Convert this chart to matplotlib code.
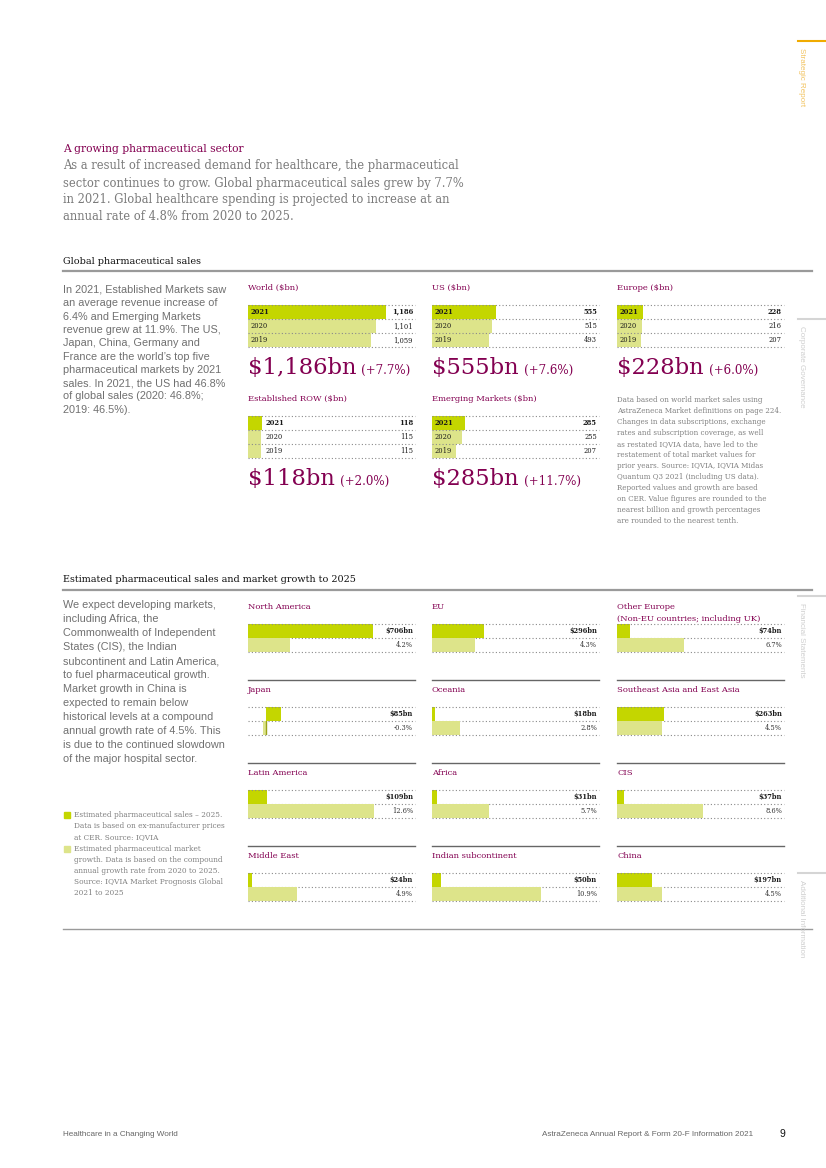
import matplotlib.pyplot as plt
from matplotlib.lines import Line2D
from matplotlib.patches import Rectangle

W, H = 826, 1168
PURPLE = '#830051'
LIME = '#C4D600'
LIME_LIGHT = '#DDE48A'
GREY = '#707070'
DOTS = '#8a8a8a'
SERIF = 'DejaVu Serif'
SANS = 'Liberation Sans'

# --- data -------------------------------------------------------------
years = ['2021', '2020', '2019']
market_titles = ['World ($bn)', 'US ($bn)', 'Europe ($bn)',
                 'Established ROW ($bn)', 'Emerging Markets ($bn)']
world_sales = [1186, 1101, 1059]
us_sales = [555, 515, 493]
europe_sales = [228, 216, 207]
est_row_sales = [118, 115, 115]
emerging_sales = [285, 255, 207]
market_growth = ['+7.7%', '+7.6%', '+6.0%', '+2.0%', '+11.7%']

regions = ['North America', 'EU', 'Other Europe\n(Non-EU countries; including UK)',
           'Japan', 'Oceania', 'Southeast Asia and East Asia',
           'Latin America', 'Africa', 'CIS',
           'Middle East', 'Indian subcontinent', 'China']
sales_2025 = [706, 296, 74, 85, 18, 263, 109, 31, 37, 24, 50, 197]
cagr_2020_2025 = [4.2, 4.3, 6.7, -0.3, 2.8, 4.5, 12.6, 5.7, 8.6, 4.9, 10.9, 4.5]

lead = ['As a result of increased demand for healthcare, the pharmaceutical',
        'sector continues to grow. Global pharmaceutical sales grew by 7.7%',
        'in 2021. Global healthcare spending is projected to increase at an',
        'annual rate of 4.8% from 2020 to 2025.']
para_sales = ['In 2021, Established Markets saw', 'an average revenue increase of',
              '6.4% and Emerging Markets', 'revenue grew at 11.9%. The US,',
              'Japan, China, Germany and', 'France are the world\u2019s top five',
              'pharmaceutical markets by 2021', 'sales. In 2021, the US had 46.8%',
              'of global sales (2020: 46.8%;', '2019: 46.5%).']
para_growth = ['We expect developing markets,', 'including Africa, the',
               'Commonwealth of Independent', 'States (CIS), the Indian',
               'subcontinent and Latin America,', 'to fuel pharmaceutical growth.',
               'Market growth in China is', 'expected to remain below',
               'historical levels at a compound', 'annual growth rate of 4.5%. This',
               'is due to the continued slowdown', 'of the major hospital sector.']
notes = ['Data based on world market sales using',
         'AstraZeneca Market definitions on page 224.',
         'Changes in data subscriptions, exchange',
         'rates and subscription coverage, as well',
         'as restated IQVIA data, have led to the',
         'restatement of total market values for',
         'prior years. Source: IQVIA, IQVIA Midas',
         'Quantum Q3 2021 (including US data).',
         'Reported values and growth are based',
         'on CER. Value figures are rounded to the',
         'nearest billion and growth percentages',
         'are rounded to the nearest tenth.']
legend_sales = ['Estimated pharmaceutical sales \u2013 2025.',
                'Data is based on ex-manufacturer prices',
                'at CER. Source: IQVIA']
legend_growth = ['Estimated pharmaceutical market',
                 'growth. Data is based on the compound',
                 'annual growth rate from 2020 to 2025.',
                 'Source: IQVIA Market Prognosis Global',
                 '2021 to 2025']
tabs = ['Strategic Report', 'Corporate Governance',
        'Financial Statements', 'Additional Information']

fig = plt.figure(figsize=(W / 100, H / 100), dpi=100)
renderer = fig.canvas.get_renderer()

COLS = [248, 432, 617]
PW = 167
SALES_MAX = 1440   # $bn across a panel width
S25_MAX = 944
CAGR_MAX = 16.7


def fx(x):
    return x / W


def fy(y):
    return 1 - y / H


def hline(x0, x1, y, color, lw):
    fig.add_artist(Line2D([fx(x0), fx(x1)], [fy(y), fy(y)], color=color, lw=lw))


def text_lines(x, y0, step, lines, **kw):
    for i, s in enumerate(lines):
        fig.text(fx(x), fy(y0 + i * step), s, va='center', **kw)


def panel_ax(x, y_top, h):
    ax = fig.add_axes([fx(x), fy(y_top + h), PW / W, h / H])
    ax.axis('off')
    return ax


def dotted(ax, y):
    ax.axhline(y, color=DOTS, lw=0.8, ls=(0, (1, 2)), clip_on=False, zorder=3)


def market_panel(x, y_title, title, values, growth):
    fig.text(fx(x), fy(y_title), title, color=PURPLE, family=SERIF, size=6.0, va='center')
    ax = panel_ax(x, y_title + 17, 42)
    ax.barh(range(3), values, height=1.0, color=[LIME, LIME_LIGHT, LIME_LIGHT], zorder=1)
    ax.set_xlim(0, SALES_MAX)
    ax.set_ylim(2.5, -0.5)
    for yy in [-0.5, 0.5, 1.5, 2.5]:
        dotted(ax, yy)
    narrow = values[0] / SALES_MAX * PW < 20
    for i, (yr, v) in enumerate(zip(years, values)):
        wt = 'bold' if i == 0 else 'normal'
        xy = (v, i) if narrow else (0, i)
        ax.annotate(yr, xy, xytext=(3 if narrow else 2, 0), textcoords='offset points',
                    va='center', ha='left', size=4.9, weight=wt, family=SERIF, color='#1a1a1a')
        ax.annotate(f'{v:,}', (1, i), xycoords=('axes fraction', 'data'), xytext=(-1.5, 0),
                    textcoords='offset points', va='center', ha='right', size=4.9,
                    weight=wt, family=SERIF, color='#1a1a1a')
    base = y_title + 86
    t1 = fig.text(fx(x), fy(base), f'${values[0]:,}bn', color=PURPLE, family=SERIF,
                  size=16.3, va='baseline')
    bb = t1.get_window_extent(renderer)
    fig.text((bb.x1 + 5) / fig.bbox.width, fy(base), f'({growth})', color=PURPLE,
             family=SERIF, size=8.6, va='baseline')


def region_panel(x, y_title, name, sales, growth):
    for k, s in enumerate(name.split('\n')):
        fig.text(fx(x), fy(y_title + 12 * k), s, color=PURPLE, family=SERIF, size=6.0, va='center')
    zero_px = 18 if growth < 0 else 0
    ax_s = panel_ax(x, y_title + 17, 14)
    ax_g = panel_ax(x, y_title + 31, 14)
    lo_s = -zero_px * S25_MAX / PW
    lo_g = -zero_px * CAGR_MAX / PW
    ax_s.barh(0, sales, height=1.0, color=LIME, zorder=1)
    ax_g.barh(0, growth, height=1.0, color=LIME_LIGHT, zorder=1)
    ax_s.set_xlim(lo_s, lo_s + S25_MAX)
    ax_g.set_xlim(lo_g, lo_g + CAGR_MAX)
    for ax in (ax_s, ax_g):
        ax.set_ylim(-0.5, 0.5)
    if growth < 0:
        ax_g.axvline(0, ymin=0.1, ymax=1, color='#9aa21a', lw=1.0)
    dotted(ax_s, 0.5)
    dotted(ax_s, -0.5)
    dotted(ax_g, -0.5)
    ax_s.annotate(f'${sales}bn', (1, 0), xycoords=('axes fraction', 'data'), xytext=(-1.5, 0),
                  textcoords='offset points', va='center', ha='right', size=4.8,
                  weight='bold', family=SERIF, color='#1a1a1a')
    ax_g.annotate(f'{growth:.1f}%', (1, 0), xycoords=('axes fraction', 'data'), xytext=(-1.5, 0),
                  textcoords='offset points', va='center', ha='right', size=4.8,
                  family=SERIF, color='#333333')


# --- intro ------------------------------------------------------------
fig.text(fx(63), fy(149), 'A growing pharmaceutical sector', color=PURPLE,
         family=SERIF, size=7.75, va='center')
text_lines(63, 166, 17, lead, color='#7a7a7a', family=SERIF, size=8.3)

# --- global pharmaceutical sales ----------------------------------------
fig.text(fx(63), fy(261), 'Global pharmaceutical sales', color='#111111',
         family=SERIF, size=6.9, va='center')
hline(63, 812, 271, '#9a9a9a', 1.6)
text_lines(63, 290, 13.3, para_sales, color=GREY, family=SANS, size=7.85)

series = [world_sales, us_sales, europe_sales, est_row_sales, emerging_sales]
slots = [(COLS[0], 288), (COLS[1], 288), (COLS[2], 288), (COLS[0], 399), (COLS[1], 399)]
for (x, yt), title, vals, g in zip(slots, market_titles, series, market_growth):
    market_panel(x, yt, title, vals, g)
text_lines(617, 400, 11.0, notes, color='#808080', family=SERIF, size=5.15)

# --- growth to 2025 -----------------------------------------------------
fig.text(fx(63), fy(579), 'Estimated pharmaceutical sales and market growth to 2025',
         color='#111111', family=SERIF, size=6.9, va='center')
hline(63, 812, 590, '#9a9a9a', 1.6)
text_lines(63, 605, 14.0, para_growth, color=GREY, family=SANS, size=7.85)

for i, (name, s, g) in enumerate(zip(regions, sales_2025, cagr_2020_2025)):
    r, c = divmod(i, 3)
    yt = 607 + 83 * r
    if r > 0:
        hline(COLS[c], COLS[c] + PW, yt - 10, '#666666', 1.0)
    region_panel(COLS[c], yt, name, s, g)
hline(63, 812, 929, '#9a9a9a', 1.0)

# legend
for y0, lines, col in [(815, legend_sales, LIME), (815 + 3 * 11.2, legend_growth, LIME_LIGHT)]:
    fig.add_artist(Rectangle((fx(64), fy(y0 + 3)), 6 / W, 6 / H, color=col,
                             transform=fig.transFigure))
    text_lines(74, y0, 11.2, lines, color='#808080', family=SERIF, size=5.3)

# --- side tabs and footer -------------------------------------------------
for k, (label, y) in enumerate(zip(tabs, [41, 319, 596, 873])):
    lc = '#F0AB00' if k == 0 else '#d5d5d5'
    tc = '#F2C360' if k == 0 else '#cfcfcf'
    hline(798, 826, y, lc, 1.5)
    fig.text(fx(802), fy(y + 7), label, rotation=270, ha='center', va='top',
             color=tc, family=SANS, size=5.8)

fig.text(fx(63), fy(1134), 'Healthcare in a Changing World', color='#666666',
         family=SANS, size=5.9, va='center')
fig.text(fx(753), fy(1134), 'AstraZeneca Annual Report & Form 20-F Information 2021',
         color='#666666', family=SANS, size=5.9, va='center', ha='right')
fig.text(fx(780), fy(1134), '9', color='#111111', family=SANS, size=7.5, va='center')

fig.savefig('out.png', dpi=100)
